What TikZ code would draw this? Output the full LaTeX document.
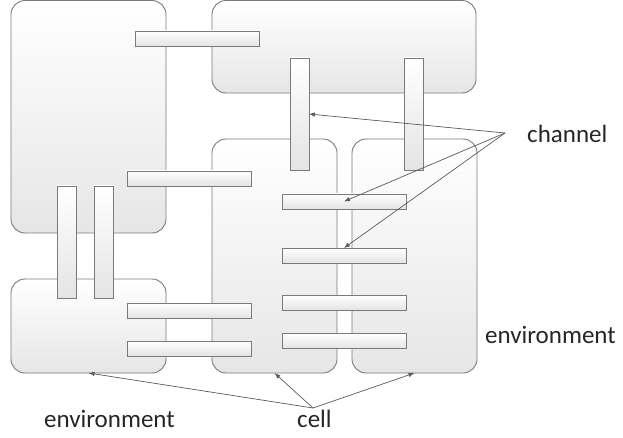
\documentclass[tikz,border=0pt]{standalone}
\usepackage{fontspec}
\setmainfont{Carlito}
\usetikzlibrary{arrows.meta}
\definecolor{boxline}{HTML}{7A7A7A}
\definecolor{cellbot}{HTML}{E6E6E6}
\definecolor{chanbot}{HTML}{E4E4E4}
\definecolor{arrowline}{HTML}{5A5A5A}
\definecolor{txt}{HTML}{262626}
\begin{document}
\begin{tikzpicture}[x=1pt,y=-1pt,
 cellbox/.style={draw=boxline, line width=0.9pt, rounded corners=14pt, top color=white, bottom color=cellbot, inner sep=0pt, outer sep=0pt, anchor=north west},
 chanbox/.style={draw=boxline, line width=0.9pt, top color=white, bottom color=chanbot, inner sep=0pt, outer sep=0pt, anchor=north west},
 hchan/.style={chanbox, minimum width=124pt, minimum height=15pt},
 vchan/.style={chanbox, minimum width=19pt, minimum height=112pt},
 lbl/.style={font=\fontsize{25}{30}\selectfont, text=txt, anchor=base west, inner sep=0pt},
 ptr/.style={draw=arrowline, line width=0.7pt, -{Latex[length=6pt,width=4.5pt]}}]
\useasboundingbox (0,0) rectangle (623,438);
% cells
\node[cellbox, minimum width=155pt, minimum height=232.5pt] (c1) at (11,0.5) {};
\node[cellbox, minimum width=264pt, minimum height=92.5pt] (c2) at (212,0.5) {};
\node[cellbox, minimum width=155pt, minimum height=94pt] (c3) at (11,279) {};
\node[cellbox, minimum width=125pt, minimum height=234pt] (c4) at (212,139) {};
\node[cellbox, minimum width=125pt, minimum height=234pt] (c5) at (352,139) {};
% channels
\node[hchan] (h1) at (135,31) {};
\node[hchan] (h2) at (127,171) {};
\node[vchan] (v1) at (290,58) {};
\node[vchan] (v2) at (404,58) {};
\node[hchan] (h3) at (282,194) {};
\node[vchan] (vl1) at (57,186) {};
\node[vchan] (vl2) at (94,186) {};
\node[hchan] (h4) at (127,303) {};
\node[hchan] (h5) at (127,341) {};
\node[hchan] (hr1) at (282,248) {};
\node[hchan] (hr2) at (282,295) {};
\node[hchan] (hr3) at (282,333) {};
% labels
\node[lbl] (lchan) at (527,143) {channel};
\node[lbl] (lenvr) at (485,343) {environment};
\node[lbl] (lenvb) at (44,427) {environment};
\node[lbl] (lcell) at (297,427) {cell};
% pointers
\coordinate (chanpt) at (505,133);
\coordinate (cellpt) at (313,408);
\draw[ptr] (chanpt) -- (v1.east);
\draw[ptr] (chanpt) -- (h3.center);
\draw[ptr] (chanpt) -- (hr1.north);
\draw[ptr] (cellpt) -- (c3.south);
\draw[ptr] (cellpt) -- (c4.south);
\draw[ptr] (cellpt) -- (c5.south);
\end{tikzpicture}
\end{document}
